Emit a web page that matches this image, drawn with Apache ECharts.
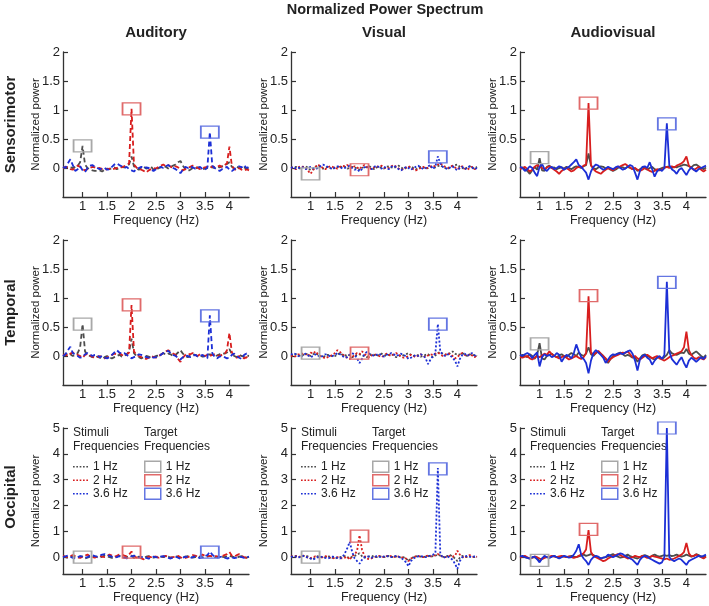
<!DOCTYPE html>
<html>
<head>
<meta charset="utf-8">
<script src="https://cdn.jsdelivr.net/npm/echarts@6/dist/echarts.min.js"></script>
<style>html,body{margin:0;padding:0;background:#fff}#main{width:709px;height:606px}</style>
</head>
<body>
<div id="main"></div>
<script>
// frequency axis (Hz)
var freqs = [0.6,0.65,0.7,0.75,0.8,0.85,0.9,0.95,1,1.05,1.1,1.15,1.2,1.25,1.3,1.35,1.4,1.45,1.5,1.55,
  1.6,1.65,1.7,1.75,1.8,1.85,1.9,1.95,2,2.05,2.1,2.15,2.2,2.25,2.3,2.35,2.4,2.45,2.5,2.55,
  2.6,2.65,2.7,2.75,2.8,2.85,2.9,2.95,3,3.05,3.1,3.15,3.2,3.25,3.3,3.35,3.4,3.45,3.5,3.55,
  3.6,3.65,3.7,3.75,3.8,3.85,3.9,3.95,4,4.05,4.1,4.15,4.2,4.25,4.3,4.35,4.4];
var targetFreqs = [1, 2, 3.6];
var stimNames = ['1 Hz', '2 Hz', '3.6 Hz'];
var xTicks = [1, 1.5, 2, 2.5, 3, 3.5, 4];
var yTicksSmall = [0, 0.5, 1, 1.5, 2];
var yTicksBig = [0, 1, 2, 3, 4, 5];
var columns = ['Auditory', 'Visual', 'Audiovisual'];
var rows = ['Sensorimotor', 'Temporal', 'Occipital'];

// Sensorimotor
var smAud1 = [0.01,0,0.02,0.01,0,0.02,0.04,0.1,0.38,0.06,
  0,-0.02,-0.04,-0.05,-0.05,-0.04,-0.06,-0.03,-0.01,-0.02,
  0,0.01,-0.02,0,0.02,0.01,0.04,0.06,0.2,0.03,
  -0.01,-0.03,0.01,0.02,-0.01,0,0.02,-0.03,-0.04,0,
  0.01,0.03,0.02,-0.01,0.02,0.04,0.06,0.1,0.12,0.04,
  -0.02,-0.05,-0.03,0,-0.01,0.01,0,-0.02,-0.01,0,
  0.02,0.01,0,0.02,0.01,0.03,0.05,0.07,0.1,0.02,
  -0.01,0.02,0,-0.02,0.01,-0.01,0];
var smAud2 = [0,0.02,0.01,-0.02,-0.03,0,0.04,0.02,-0.02,-0.04,
  -0.02,0,0.02,0.01,-0.01,0,-0.02,-0.03,-0.02,-0.01,
  -0.03,-0.01,0,0.02,0.01,0.03,0.05,0.08,1.02,0.06,
  0.01,-0.02,-0.03,-0.05,-0.08,-0.04,-0.02,0,-0.01,0.02,
  0.04,0.06,0.03,0.05,0.02,0,0.03,0.01,-0.02,-0.04,
  -0.02,0,0.02,0.04,0.03,0,-0.02,0,0.01,0.02,
  0,0.03,0.01,0.02,0.04,0.02,0.05,0.08,0.37,0.04,
  -0.02,-0.04,0,-0.03,-0.05,-0.02,-0.04];
var smAud36 = [0.02,0,0.08,0.15,0.05,-0.05,-0.02,0.03,-0.04,-0.07,
  0,0.04,0.05,0.02,0,-0.02,-0.01,0,-0.03,-0.02,
  0.02,0.06,0.08,0.05,0.03,0,0.02,-0.02,-0.04,-0.06,
  -0.02,0,0.02,-0.01,0.01,0,-0.03,-0.05,-0.02,0,
  0.02,0,0.03,0.05,0.02,0,-0.02,-0.05,-0.09,-0.03,
  0.02,0,0.03,0.01,-0.01,0,0.02,-0.02,-0.03,0.01,
  0.62,0.04,0,-0.03,-0.05,-0.02,0,0.02,-0.03,-0.05,
  -0.02,0,0.03,0.01,0.05,0,0.02];
var smVis1 = [0,0.01,0.02,0,-0.01,0.02,0.03,0,-0.04,-0.02,
  0.02,0.04,0.01,-0.01,0,0.02,0,-0.02,0.01,0.02,
  0,0.03,0.02,-0.01,0,0.02,0.01,-0.01,-0.03,0,
  0.02,0.01,0.03,0,-0.02,0.01,0.02,0,-0.01,0.02,
  0.03,0.01,0,0.02,0.04,0.01,-0.02,0,0.01,0.03,
  0,-0.02,-0.01,0.02,0.01,-0.01,0,0.02,0.03,0.01,
  0.03,0.05,0.02,0,-0.02,0.01,0.03,0.05,0.06,0.02,
  0,-0.02,0.01,0.03,0,-0.01,0.02];
var smVis2 = [0.01,0,-0.02,0.01,0.03,0.02,0,-0.05,-0.1,-0.04,
  0.02,0.06,0.03,0,-0.02,0.01,0.03,0.02,0,-0.01,
  0.02,0.04,0.03,0.05,0.02,0,0.03,0.01,-0.02,0.03,
  0.05,0.02,0,-0.02,0.01,0.03,0.02,0.04,0.01,-0.01,
  0,0.03,0.05,0.02,-0.01,-0.03,-0.02,0.01,0.03,0,
  -0.02,-0.04,-0.02,0,0.02,-0.01,0.01,0.03,0.02,0.04,
  0.06,0.08,0.05,0.02,0,0.02,0.04,0.01,-0.02,0.01,
  0.03,-0.01,-0.03,0,0.02,-0.02,0];
var smVis36 = [0,0.02,-0.01,0,0.02,0.01,-0.02,0,0.02,0,
  -0.02,0,0.03,0.06,0.04,0.02,0,-0.02,0.01,0.03,
  0.02,-0.01,0,0.02,0.04,0,-0.03,-0.02,-0.06,-0.02,
  0.01,0.03,0,-0.02,0.02,0.04,0.01,-0.01,0.02,0,
  -0.02,0.02,0.04,0.01,-0.02,-0.04,-0.01,0.02,0,-0.03,
  0,0.02,0.04,0.01,-0.02,0,0.03,0.05,-0.02,0.03,
  0.2,0.08,0.02,0,-0.02,0.01,0.03,-0.01,-0.04,0,
  0.02,-0.02,0,0.03,0.01,-0.02,0];
var smAv1 = [0,0.01,-0.02,-0.05,-0.1,-0.04,0.02,-0.03,0.17,-0.04,
  -0.05,0.02,0.04,0,0.01,-0.02,0,0.01,-0.01,0.02,
  0,-0.02,0.01,0.03,0.02,0,0.03,0.05,0.25,0.04,
  0,-0.02,0.01,0.03,0.02,-0.01,0,-0.03,-0.05,-0.03,
  0,0.02,0.01,-0.01,0.02,0,-0.02,0,-0.05,-0.02,
  0.01,0,-0.03,0,0.02,-0.02,-0.04,-0.02,0,0.01,
  0.02,0.03,0,0.02,0.01,0.03,0.04,0.06,0.05,0.03,
  0.01,0.05,0.06,0.03,0,-0.02,0.01];
var smAv2 = [-0.02,0,0.02,-0.02,-0.06,-0.03,0.02,0.05,0.02,0,
  -0.02,0.01,0.03,0,-0.03,-0.06,-0.1,-0.05,-0.02,0,
  -0.03,-0.06,-0.04,0,0.02,0.01,0.04,0.06,1.12,0.05,
  -0.02,-0.06,-0.08,-0.1,-0.06,-0.03,0,-0.02,-0.04,-0.01,
  0.02,0.03,0.05,0.07,0.04,0.01,-0.02,0,-0.03,-0.05,
  -0.03,0,-0.02,-0.05,-0.07,-0.05,-0.02,-0.04,-0.03,0,
  0.02,0,0.03,0.01,0.04,0.06,0.08,0.12,0.2,0.04,
  0,-0.03,-0.01,0.02,-0.03,-0.06,-0.03];
var smAv36 = [0.02,0,-0.05,-0.02,0.03,0,-0.08,-0.14,0.02,0.07,
  -0.02,-0.05,0,0.02,-0.02,0,0.03,0.01,-0.03,0,
  0.02,0.06,0.1,0.15,0.05,0.02,-0.03,-0.08,-0.2,-0.06,
  0.02,0.06,0.04,0,-0.03,-0.01,0.02,0,-0.02,0.01,
  0.03,0,-0.03,-0.01,0.02,0.05,0.03,-0.08,-0.2,-0.05,
  0.02,0.03,0,0.1,-0.02,-0.15,-0.06,-0.02,-0.05,0,
  0.77,0.05,-0.02,-0.05,-0.1,-0.03,0,-0.06,-0.12,-0.04,
  0.01,-0.03,-0.06,-0.02,0,0.02,0.04];

// Temporal
var tpAud1 = [0,0.02,0.05,0.03,0,0.02,0.05,0.15,0.55,0.08,
  0.02,0,-0.02,-0.03,-0.01,-0.03,-0.05,-0.02,0,-0.03,
  -0.04,-0.02,0,0.02,-0.01,0,0.03,0.08,0.3,0.05,
  0,-0.02,-0.04,-0.02,0,-0.01,-0.03,-0.02,0,0.01,
  0.03,0.05,0.02,0.04,0.03,0,0.02,0.06,0.1,0.04,
  0,-0.02,0.01,0.03,0.02,0,0.01,-0.01,0,0.02,
  0.03,0.02,0,0.01,0.03,0.05,0.04,0.06,0.12,0.03,
  0,-0.02,0.02,0,-0.01,0.01,0];
var tpAud2 = [0.02,0.03,0,0.04,0.06,0.05,0.02,0,-0.03,0.02,
  0.04,0.01,-0.01,-0.03,-0.02,0,-0.02,-0.04,-0.03,0,
  0.02,0.04,0.03,0.05,0.02,0,0.02,0.06,0.88,0.08,
  0.02,0,-0.02,-0.04,-0.05,-0.03,0,-0.02,-0.03,0,
  0.02,0.05,0.08,0.1,0.07,0.04,0.02,-0.05,-0.1,-0.03,
  0.02,0.04,0.03,0.05,0.02,0,0.03,0.01,0,0.02,
  0,0.02,0.03,0.01,0,0.02,0.03,0.1,0.4,0.06,
  0,-0.03,0,-0.02,-0.04,-0.02,-0.05];
var tpAud36 = [0,0.03,0.1,0.16,0.05,0.02,0,-0.03,-0.02,0.03,
  0.05,0.03,0,0.02,0.01,-0.02,0,-0.03,-0.04,-0.02,
  0.02,0.06,0.1,0.06,0.04,0.05,0.02,-0.01,-0.04,-0.02,
  0,0.03,0.02,0,-0.02,-0.03,-0.01,-0.03,-0.02,0,
  0.02,0.05,0.07,0.09,0.05,0.02,0,-0.03,-0.06,-0.02,
  0.01,0,-0.02,0,0.02,-0.01,0,0.02,-0.02,-0.04,
  0.7,0.05,-0.02,-0.04,-0.01,0,-0.02,-0.04,-0.03,0.02,
  0.04,0,-0.03,-0.05,0.02,0.04,0.02];
var tpVis1 = [0,0.02,0.03,0.01,0,0.02,0.04,0.02,0,0.03,
  0.05,0.02,0,-0.02,0,0.02,0.01,-0.01,0,0.03,
  0.05,0.02,0,0.03,0.01,-0.02,0,0.02,0.03,0.01,
  0,-0.02,0.01,0.03,0.02,0,0.02,0.04,0.02,0,
  0.02,0.03,0.01,-0.02,0,0.02,0.01,0.03,0.05,0.02,
  0,0.02,0.01,-0.01,0,0.02,0.03,0,-0.02,0.01,
  0.05,0.07,0.04,0.02,0.03,0.05,0.08,0.04,0.02,0.03,
  0.05,0.02,0,0.03,0.01,0.02,0];
var tpVis2 = [0.01,-0.02,0,0.03,0.02,0.05,0.03,0,0.06,0.04,
  0.08,0.03,0,-0.02,-0.04,-0.02,0,0.02,0.05,0.1,
  0.07,0.03,0,-0.03,-0.05,-0.02,0.02,0.05,0.03,0.08,
  0.04,0,-0.02,0.01,0.03,0.02,0,-0.02,0.01,0.04,
  0.02,0,0.03,0.05,0.02,-0.01,-0.03,-0.02,0,0.02,
  0,-0.02,0.01,0.03,0,-0.02,0.01,0.03,0.02,0.04,
  0.06,0.03,0,0.02,0.05,0.03,0,-0.04,-0.02,0.03,
  0.05,0.02,0,0.03,0.01,-0.02,0.01];
var tpVis36 = [0.02,0.05,0.03,0,-0.02,0.02,0.04,0.01,-0.02,0,
  0.03,0.01,-0.02,0,0.03,0.02,-0.01,0,0.02,0.05,
  0.03,0,-0.03,-0.02,0.02,0.05,0.02,-0.04,-0.12,-0.05,
  0.03,0.07,0.04,0.02,0,0.02,0.04,0.01,-0.01,0.02,
  0.03,0.05,0.03,0,0.02,0.04,0.01,0,-0.05,-0.03,
  -0.01,0.02,0,0.03,0.01,-0.04,-0.14,-0.06,0,0.05,
  0.55,0.08,0.02,0,0.03,0.01,-0.03,-0.08,-0.18,-0.05,
  0.02,0.04,0,0.03,0.05,0.01,0];
var tpAv1 = [0,0.02,0,-0.02,0.03,0,-0.05,0.02,0.22,-0.04,
  -0.06,0,0.02,0.04,0,-0.02,0.01,0.03,0,-0.02,
  0.02,0.05,0.03,0,0.06,0.02,0,0.04,0.15,0.03,
  0,0.05,0.08,0.04,0,-0.05,-0.12,-0.05,0,0.02,
  0.04,0.06,0.03,0,0.02,0,-0.03,-0.02,-0.1,-0.04,
  0.01,0.03,0,-0.02,-0.04,-0.06,-0.03,-0.02,-0.05,-0.02,
  0.02,0.1,0.05,0.03,0.02,0.04,0.06,0.05,0.12,0.04,
  0.02,0.05,0.08,0.04,0,-0.03,0.02];
var tpAv2 = [-0.02,-0.03,-0.01,0,-0.04,-0.06,-0.03,0,-0.02,0.01,
  0.04,0.02,0.08,0.03,0,-0.02,-0.04,-0.02,0,-0.03,
  -0.06,-0.04,-0.02,0,-0.03,-0.05,-0.02,0.05,1.03,0.06,
  0.02,0.05,0.09,0.04,0,-0.04,-0.1,-0.05,-0.02,0,
  0.02,0.04,0.06,0.05,0.08,0.03,-0.02,0,-0.04,-0.06,
  -0.03,0,0.02,-0.01,-0.04,-0.02,0,-0.04,-0.06,-0.08,
  -0.05,-0.02,0,0.02,0.04,0.06,0.08,0.15,0.42,0.1,
  0.02,-0.03,-0.05,-0.02,-0.04,-0.06,-0.02];
var tpAv36 = [0.02,0,0.03,0.05,0.02,-0.04,0.02,0.06,-0.18,-0.02,
  0.03,0,0.02,-0.02,0,0.05,0.02,-0.1,-0.03,0.02,
  0,-0.04,0.05,0.2,0.08,-0.02,-0.05,-0.12,-0.3,-0.08,
  0.05,0.1,0.06,0.02,-0.03,-0.12,-0.06,0,0.03,0.02,
  0.04,0.05,0.03,0.06,0.08,0.1,0.04,-0.08,-0.25,-0.06,
  0,0.02,-0.03,-0.06,-0.15,-0.08,-0.03,0,-0.05,0.02,
  1.28,0.08,-0.05,-0.1,-0.15,-0.08,-0.02,-0.12,-0.2,-0.08,
  -0.03,-0.06,-0.1,-0.06,-0.02,-0.05,0];

// Occipital
var ocAud1 = [0.02,0,-0.03,0.02,0.04,0,-0.02,0.03,0.02,-0.05,
  -0.02,0.02,0.05,0.03,0,-0.02,0.02,0.06,0.04,0,
  -0.03,0,0.03,0.05,0.02,-0.02,0,0.04,0.06,-0.04,
  -0.02,0.02,0,-0.03,0.02,0.04,0.01,-0.02,0,0.03,
  0.02,0,0.04,0.02,-0.02,0,0.03,0.01,-0.03,0,
  0.02,0.04,0.01,-0.02,0,0.03,0.02,-0.01,0,0.02,
  0.05,0.03,0,0.02,0.04,0.01,0,0.03,0.06,0.02,
  0,-0.02,0.02,0.04,0,-0.02,0.01];
var ocAud2 = [0.05,0.02,0,0.04,0.08,0.05,0,-0.03,0.02,0.06,
  0.1,0.04,0,-0.02,0.03,0.05,0.02,0,0.04,0.1,
  0.06,0.02,0.05,0.1,0.12,0.06,0.04,0.1,0.22,0.05,
  -0.02,0.03,-0.05,-0.08,-0.03,0.02,0,0.04,0.02,-0.02,
  0,0.03,0.05,0.02,-0.02,0,0.03,0.05,0,-0.05,
  -0.03,0,0.05,0.08,0.06,0.03,0.05,0.1,0.06,0.03,
  0.05,0.03,0.06,0.02,0,0.04,0.08,0.12,0.2,0.06,
  0.02,0.08,0.12,0.05,0,-0.03,0.02];
var ocAud36 = [0,0.03,0.06,0.02,-0.03,-0.05,0,0.04,0.02,-0.02,
  0,0.05,0.08,0.04,0.02,0.06,0.1,0.12,0.08,0.05,
  0.02,-0.02,0,0.04,0.02,-0.02,-0.05,0,0.03,0.06,
  0.02,-0.02,0,0.03,-0.03,-0.06,-0.02,0.02,0,-0.02,
  0.02,0.04,0,-0.03,-0.05,0,0.02,-0.02,-0.06,-0.02,
  0.02,0,-0.03,0,0.03,0,-0.04,0,0.05,0.08,
  0.22,0.1,0.02,-0.02,0,0.03,-0.02,-0.05,-0.03,0,
  -0.04,-0.02,0.02,0,-0.03,0,0.02];
var ocVis1 = [0,0.03,0.05,0.02,0,0.04,0.06,0.02,-0.05,-0.08,
  0,0.04,0.02,-0.02,0,0.03,0.02,-0.03,-0.05,-0.02,
  0,0.02,0.04,0,-0.04,0.02,0.05,0.1,0.15,0.04,
  -0.02,0,0.03,0.05,0.02,0,0.03,0.02,0,0.03,
  0.05,0.02,0,0.03,0.01,-0.02,0,-0.05,-0.15,-0.05,
  0,0.03,0.05,0.02,0,0.03,0.05,0.02,0.04,0.06,
  0.1,0.06,0.02,0,0.05,0.08,0.03,-0.05,-0.15,-0.02,
  0.05,0.02,0,0.03,0.02,0,0.02];
var ocVis2 = [0.02,0.05,0.03,0,0.04,0.06,0.02,-0.02,-0.04,0,
  0.03,0,-0.03,0,0.04,0.02,-0.02,-0.05,-0.02,0,
  -0.03,-0.05,-0.02,0.02,-0.1,0.05,0.1,0.25,0.85,0.3,
  0.05,-0.05,-0.08,-0.04,0,0.03,0.05,0.02,0,0.04,
  0.06,0.03,0,0.04,0.02,-0.02,0,-0.05,-0.15,-0.05,
  0,0.03,0.05,0.02,0,0.04,0.06,0.03,0.05,0.08,
  0.12,0.06,0.02,0,0.03,0.05,0.02,0.05,0.25,0.1,
  0.02,-0.03,0.05,0.08,0.03,0,0.02];
var ocVis36 = [0,0.04,0.02,-0.02,0.03,0.05,0.02,-0.02,-0.05,-0.1,
  -0.04,0,0.03,0,-0.03,-0.05,-0.02,0.02,0,-0.03,
  -0.05,0,0.15,0.35,0.6,0.2,-0.05,-0.15,-0.25,-0.1,
  0,0.03,0.02,-0.02,0,0.04,0.02,0,0.03,0.05,
  0.02,0,0.03,0.05,0.02,-0.03,-0.1,-0.2,-0.35,-0.15,
  -0.05,0,0.03,0.05,0.02,0,0.04,0.06,0.1,0.15,
  3.45,0.15,-0.02,0,0.03,-0.02,-0.1,-0.25,-0.45,-0.15,
  0,0.03,0.05,0.02,0,0.03,0];
var ocAv1 = [0,0.02,0,-0.03,-0.05,-0.02,0,-0.05,-0.15,-0.05,
  0.02,0,-0.02,0.03,0.05,0,-0.03,0.02,0.04,0,
  0.02,0.05,0.02,0,0.03,0.06,0.1,0.05,0.08,0.12,
  0.08,0.03,0,-0.05,-0.02,0,0.03,0.08,0.12,0.06,
  0.02,-0.02,0,0.05,0.1,0.04,0,-0.03,-0.05,0,
  0.05,0.08,0.04,0,0.06,0.1,0.05,0.02,0.05,0.08,
  0.05,0.08,0.04,0.06,0.1,0.05,0.02,0.05,0.1,0.06,
  0.02,0.05,0.12,0.08,0.03,0,0.04];
var ocAv2 = [-0.02,0.03,0.05,0,-0.05,-0.02,0.03,0,-0.05,-0.08,
  -0.03,0,0.02,0.05,0.02,0,0.03,0.05,0.02,0,
  0.03,0,-0.03,0,0.05,0.1,0.15,0.3,1.05,0.2,
  0.05,0,-0.05,-0.1,-0.15,-0.12,-0.05,0,0.05,0.08,
  0.12,0.08,0.03,0,-0.05,-0.03,0,0.05,0.02,0,
  0.05,0.02,-0.03,0,0.05,0.02,0,-0.03,-0.05,-0.08,
  -0.05,-0.1,-0.08,-0.05,0,0.05,0.1,0.2,0.55,0.15,
  0.03,0.05,0.1,0.05,0,-0.05,0.02];
var ocAv36 = [0.02,0.05,0,-0.03,-0.05,0,0.02,-0.08,-0.2,-0.05,
  0.05,0,-0.03,0.02,0.05,0,-0.05,0,0.05,0.02,
  -0.02,0,0.1,0.25,0.5,0.1,-0.05,-0.15,-0.3,-0.1,
  0,0.05,0.02,-0.05,-0.02,0,0.1,0.05,0,0.05,
  0.1,0.15,0.12,0.05,0,-0.05,-0.1,-0.2,-0.3,-0.1,
  0,0.05,0.02,-0.05,-0.1,-0.15,-0.2,-0.25,-0.2,0,
  5,0,-0.1,-0.15,-0.1,-0.05,-0.1,-0.2,-0.3,-0.15,
  -0.1,-0.05,0,0.05,0.02,0.05,0.1];

// centre heights of the target-frequency boxes [1 Hz, 2 Hz, 3.6 Hz]
var smAudBox = [0.38, 1.02, 0.62];
var smVisBox = [-0.1, -0.03, 0.19];
var smAvBox = [0.18, 1.12, 0.76];
var tpAudBox = [0.55, 0.88, 0.69];
var tpVisBox = [0.05, 0.05, 0.55];
var tpAvBox = [0.21, 1.04, 1.27];
var ocAudBox = [0.0, 0.2, 0.2];
var ocVisBox = [0.0, 0.82, 3.42];
var ocAvBox = [-0.12, 1.08, 5.0];

var panels = [
  [smAud1, smAud2, smAud36, smAudBox], [smVis1, smVis2, smVis36, smVisBox], [smAv1, smAv2, smAv36, smAvBox],
  [tpAud1, tpAud2, tpAud36, tpAudBox], [tpVis1, tpVis2, tpVis36, tpVisBox], [tpAv1, tpAv2, tpAv36, tpAvBox],
  [ocAud1, ocAud2, ocAud36, ocAudBox], [ocVis1, ocVis2, ocVis36, ocVisBox], [ocAv1, ocAv2, ocAv36, ocAvBox]
];

var FONT = '"Liberation Sans", Arial, Helvetica, sans-serif';
var colLeft = [63, 291, 520];
var rowTop = [52, 240, 428];
var rowHeight = [145, 145, 146];
var gridWidth = 186;
var lineColors = ['#4d4d4d', '#d81e1e', '#1c2fd6'];
var boxColors = ['#a8a8a8', '#e06a6a', '#6476e2'];
var lineTypes = [[5, 3], [2, 2], 'solid'];
var dotIcon = 'path://M0,0h2v2h-2zM4,0h2v2h-2zM8,0h2v2h-2zM12,0h2v2h-2zM16,0h2v2h-2z';

var chartDom = document.getElementById('main');
var myChart = echarts.init(chartDom, null, { renderer: 'canvas' });

var grids = [], xAxes = [], yAxes = [], series = [], legends = [], graphics = [];

panels.forEach(function (p, k) {
  var r = Math.floor(k / 3), c = k % 3;
  var big = r === 2;
  grids.push({
    left: colLeft[c], top: rowTop[r], width: gridWidth, height: rowHeight[r],
    containLabel: false, outerBoundsMode: 'none'
  });
  xAxes.push({
    type: 'value', gridIndex: k, min: 0.6, max: 4.4,
    name: 'Frequency (Hz)', nameLocation: 'middle', nameGap: 17, nameMoveOverlap: false,
    nameTextStyle: { fontSize: 12.5, color: '#222', fontFamily: FONT },
    axisLine: { show: true, onZero: false, lineStyle: { color: '#333', width: 1.3 } },
    axisTick: { show: true, inside: true, length: 5, customValues: xTicks, lineStyle: { color: '#333', width: 1.2 } },
    axisLabel: { customValues: xTicks, fontSize: 13, color: '#222', margin: 3, fontFamily: FONT },
    splitLine: { show: false }
  });
  yAxes.push({
    type: 'value', gridIndex: k,
    min: big ? -0.65 : -0.5, max: big ? 5 : 2,
    name: 'Normalized power', nameLocation: 'middle', nameGap: 21, nameMoveOverlap: false,
    nameTextStyle: { fontSize: 11.5, color: '#222', fontFamily: FONT },
    axisLine: { show: true, onZero: false, lineStyle: { color: '#333', width: 1.3 } },
    axisTick: { show: true, inside: true, length: 5, customValues: big ? yTicksBig : yTicksSmall, lineStyle: { color: '#333', width: 1.2 } },
    axisLabel: { customValues: big ? yTicksBig : yTicksSmall, fontSize: 13, color: '#222', margin: 3, fontFamily: FONT },
    splitLine: { show: false }
  });
  for (var s = 0; s < 3; s++) {
    var vals = p[s];
    series.push({
      type: 'line', name: stimNames[s], xAxisIndex: k, yAxisIndex: k,
      data: freqs.map(function (f, i) { return [f, vals[i]]; }),
      showSymbol: false, symbol: 'none', animation: false, silent: true,
      lineStyle: { color: lineColors[s], width: 1.8, type: lineTypes[c] },
      itemStyle: { color: lineColors[s] },
      markPoint: {
        silent: true, animation: false,
        symbol: 'rect', symbolSize: [18, 12],
        label: { show: false },
        itemStyle: { color: 'rgba(0,0,0,0)', borderColor: boxColors[s], borderWidth: 1.5 },
        data: [{ coord: [targetFreqs[s], p[3][s]] }]
      }
    });
  }
});

// legends in the bottom row
for (var c = 0; c < 3; c++) {
  legends.push({
    orient: 'vertical', left: colLeft[c] + 10, top: 460, padding: 0, itemGap: 0,
    itemWidth: 15, itemHeight: 2, selectedMode: false,
    textStyle: { fontSize: 12, color: '#222', fontFamily: FONT, lineHeight: 13.5 },
    data: stimNames.map(function (n, s) {
      return { name: n, icon: dotIcon, itemStyle: { color: lineColors[s], borderWidth: 0 } };
    })
  });
  legends.push({
    orient: 'vertical', left: colLeft[c] + 81, top: 460, padding: 0, itemGap: 0,
    itemWidth: 16, itemHeight: 11, selectedMode: false,
    textStyle: { fontSize: 12, color: '#222', fontFamily: FONT, lineHeight: 13.5 },
    data: stimNames.map(function (n, s) {
      return { name: n, icon: 'rect', itemStyle: { color: 'rgba(0,0,0,0)', borderColor: boxColors[s], borderWidth: 1.5 } };
    })
  });
  graphics.push({
    type: 'text', x: colLeft[c] + 10, y: 426, silent: true,
    style: { text: 'Stimuli\nFrequencies', font: '12px ' + FONT, fill: '#222', lineHeight: 14 }
  });
  graphics.push({
    type: 'text', x: colLeft[c] + 81, y: 426, silent: true,
    style: { text: 'Target\nFrequencies', font: '12px ' + FONT, fill: '#222', lineHeight: 14 }
  });
  graphics.push({
    type: 'text', x: colLeft[c] + gridWidth / 2, y: 33, silent: true,
    style: { text: columns[c], font: 'bold 15px ' + FONT, fill: '#222', align: 'center', verticalAlign: 'middle', textAlign: 'center', textVerticalAlign: 'middle' }
  });
}

for (var r = 0; r < 3; r++) {
  graphics.push({
    type: 'text', x: 11, y: rowTop[r] + rowHeight[r] / 2 - (r === 2 ? 4 : 0), rotation: Math.PI / 2, silent: true,
    style: { text: rows[r], font: 'bold 15px ' + FONT, fill: '#222', align: 'center', verticalAlign: 'middle', textAlign: 'center', textVerticalAlign: 'middle' }
  });
}

graphics.push({
  type: 'text', x: 385, y: 10, silent: true,
  style: { text: 'Normalized Power Spectrum', font: 'bold 14.5px ' + FONT, fill: '#222', align: 'center', verticalAlign: 'middle', textAlign: 'center', textVerticalAlign: 'middle' }
});

var option = {
  backgroundColor: '#fff',
  animation: false,
  grid: grids,
  xAxis: xAxes,
  yAxis: yAxes,
  legend: legends,
  graphic: graphics,
  series: series
};

myChart.setOption(option);
</script>
</body>
</html>
